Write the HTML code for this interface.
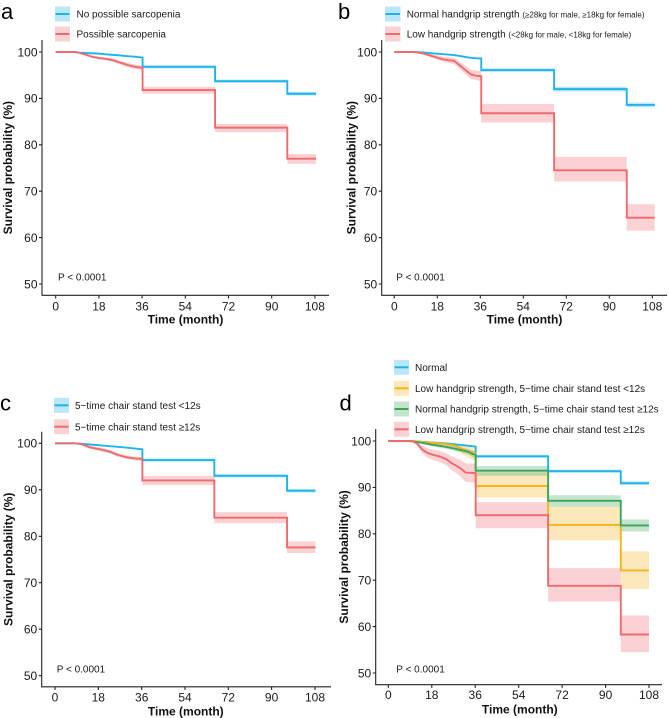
<!DOCTYPE html>
<html><head><meta charset="utf-8"><style>
html,body{margin:0;padding:0;background:#fff;}
svg{display:block;font-family:"Liberation Sans",Arial,sans-serif;}
.tk{font-size:12px;fill:#1a1a1a;}
.yt{font-size:12px;fill:#1a1a1a;text-anchor:end;}
.xt{font-size:12px;fill:#1a1a1a;text-anchor:middle;}
.ti{font-size:12px;font-weight:bold;fill:#111;text-anchor:middle;}
.lg{font-size:10px;fill:#1a1a1a;}
.pv{font-size:10px;fill:#1a1a1a;}
.let{font-size:22px;fill:#000;}
.ax{stroke:#222;stroke-width:1.1;fill:none;}
.ln{fill:none;stroke-width:1.9;vector-effect:non-scaling-stroke;stroke-linejoin:miter;}
</style></head><body>
<svg width="669" height="718" viewBox="0 0 669 718" xmlns="http://www.w3.org/2000/svg">
<rect width="669" height="718" fill="#fff"/>

<!-- ================= PANEL A ================= -->
<text class="let" x="1" y="19">a</text>
<rect x="55" y="6.5" width="15" height="15" fill="#1FB4E9" fill-opacity="0.3"/>
<line x1="55.5" y1="14" x2="69.5" y2="14" stroke="#1FB4E9" stroke-width="2"/>
<rect x="55" y="26.5" width="15" height="15" fill="#EF6A6E" fill-opacity="0.3"/>
<line x1="55.5" y1="34" x2="69.5" y2="34" stroke="#EF6A6E" stroke-width="2"/>
<text class="lg" x="76.5" y="17.6">No possible sarcopenia</text>
<text class="lg" x="76.5" y="37.6">Possible sarcopenia</text>

<g transform="translate(55.7,52) scale(2.4,4.64)">
  <g fill="#1FB4E9" fill-opacity="0.3">
    <rect x="36.2" y="2.85" width="30.2" height="0.7"/>
    <rect x="66.4" y="5.95" width="30.1" height="0.7"/>
    <rect x="96.5" y="8.6" width="12" height="0.8"/>
  </g>
  <g fill="#EF6A6E" fill-opacity="0.3">
    <polygon points="8,0 12,0.3 15,0.7 18,1.0 21,1.2 24,1.4 27,1.9 30,2.3 33,2.7 36.2,2.9 36.2,3.9 33,3.7 30,3.3 27,2.7 24,2.2 21,1.8 18,1.6 15,1.3 12,0.7 8,0"/>
    <rect x="36.2" y="7.5" width="30.2" height="1.5"/>
    <rect x="66.4" y="15.5" width="30.1" height="1.8"/>
    <rect x="96.5" y="22.0" width="12" height="2.1"/>
  </g>
  <path class="ln" stroke="#1FB4E9" d="M0,0 L8,0 L10,0.15 L14,0.25 L18,0.35 L22,0.55 L26,0.7 L30,0.9 L33,1.0 L36.2,1.2 L36.2,3.2 L66.4,3.2 L66.4,6.3 L96.5,6.3 L96.5,9.0 L108.5,9.0"/>
  <path class="ln" stroke="#EF6A6E" d="M0,0 L8,0 L10,0.2 L12,0.5 L15,1.0 L18,1.3 L21,1.5 L24,1.8 L27,2.3 L30,2.8 L33,3.2 L36.2,3.4 L36.2,8.2 L66.4,8.2 L66.4,16.3 L96.5,16.3 L96.5,23.0 L108.5,23.0"/>
</g>

<path class="ax" d="M42,40 L42,295.3 L329,295.3"/>
<path class="ax" d="M39,52H42M39,98.4H42M39,144.8H42M39,191.2H42M39,237.6H42M39,284H42"/>
<path class="ax" d="M55.7,295.3V298.5M98.9,295.3V298.5M142.1,295.3V298.5M185.3,295.3V298.5M228.5,295.3V298.5M271.7,295.3V298.5M314.9,295.3V298.5"/>
<text class="yt" x="37.5" y="56.3">100</text>
<text class="yt" x="37.5" y="102.7">90</text>
<text class="yt" x="37.5" y="149.1">80</text>
<text class="yt" x="37.5" y="195.5">70</text>
<text class="yt" x="37.5" y="241.9">60</text>
<text class="yt" x="37.5" y="288.3">50</text>
<text class="xt" x="55.7" y="310.3">0</text>
<text class="xt" x="98.9" y="310.3">18</text>
<text class="xt" x="142.1" y="310.3">36</text>
<text class="xt" x="185.3" y="310.3">54</text>
<text class="xt" x="228.5" y="310.3">72</text>
<text class="xt" x="271.7" y="310.3">90</text>
<text class="xt" x="314.9" y="310.3">108</text>
<text class="ti" x="185.5" y="323.5">Time (month)</text>
<text class="ti" transform="translate(7.5,167.7) rotate(-90)" y="4.3">Survival probability (%)</text>
<text class="pv" x="58" y="280.3">P &lt; 0.0001</text>

<!-- ================= PANEL B ================= -->
<text class="let" x="338" y="19">b</text>
<rect x="385" y="6.5" width="15.5" height="15" fill="#1FB4E9" fill-opacity="0.3"/>
<line x1="385.5" y1="14" x2="400" y2="14" stroke="#1FB4E9" stroke-width="2"/>
<rect x="385" y="26.5" width="15.5" height="15" fill="#EF6A6E" fill-opacity="0.3"/>
<line x1="385.5" y1="34" x2="400" y2="34" stroke="#EF6A6E" stroke-width="2"/>
<text class="lg" x="406.7" y="17.6">Normal handgrip strength <tspan font-size="8px">(≥28kg for male, ≥18kg for female)</tspan></text>
<text class="lg" x="406.7" y="37.6">Low handgrip strength <tspan font-size="8px">(&lt;28kg for male, &lt;18kg for female)</tspan></text>

<g transform="translate(394.3,52) scale(2.389,4.64)">
  <g fill="#1FB4E9" fill-opacity="0.3">
    <rect x="36.4" y="3.5" width="30.5" height="0.8"/>
    <rect x="66.9" y="7.5" width="30.4" height="1.0"/>
    <rect x="97.3" y="10.9" width="11.7" height="1.0"/>
  </g>
  <g fill="#EF6A6E" fill-opacity="0.3">
    <polygon points="9.7,0 14,0.3 16.6,0.6 20.8,1.0 25,1.2 28.5,2.5 32,3.8 36.4,4.1 36.4,6.3 32,5.8 28.5,4.2 25,2.6 20.8,2.2 16.6,1.4 14,0.9 9.7,0.2"/>
    <rect x="36.4" y="11.2" width="30.5" height="4.0"/>
    <rect x="66.9" y="22.6" width="30.4" height="5.3"/>
    <rect x="97.3" y="32.8" width="11.7" height="5.7"/>
  </g>
  <path class="ln" stroke="#1FB4E9" d="M0,0 L8,0 L12,0.1 L16.6,0.3 L20,0.45 L25,0.65 L28,0.9 L30.5,1.15 L33,1.3 L36.4,1.4 L36.4,3.9 L66.9,3.9 L66.9,8.0 L97.3,8.0 L97.3,11.4 L109,11.4"/>
  <path class="ln" stroke="#EF6A6E" d="M0,0 L8,0 L9.7,0.1 L12,0.3 L14,0.6 L16.6,1.0 L18.5,1.3 L20.8,1.6 L23,1.8 L25,1.9 L26.5,2.5 L28.5,3.35 L30,4.0 L32,4.8 L34,5.1 L36.4,5.2 L36.4,13.2 L66.9,13.2 L66.9,25.5 L97.3,25.5 L97.3,35.7 L109,35.7"/>
</g>

<path class="ax" d="M381.7,40 L381.7,295.3 L667,295.3"/>
<path class="ax" d="M378.7,52H381.7M378.7,98.4H381.7M378.7,144.8H381.7M378.7,191.2H381.7M378.7,237.6H381.7M378.7,284H381.7"/>
<path class="ax" d="M394.3,295.3V298.5M437.3,295.3V298.5M480.3,295.3V298.5M523.3,295.3V298.5M566.3,295.3V298.5M609.3,295.3V298.5M652.3,295.3V298.5"/>
<text class="yt" x="377.2" y="56.3">100</text>
<text class="yt" x="377.2" y="102.7">90</text>
<text class="yt" x="377.2" y="149.1">80</text>
<text class="yt" x="377.2" y="195.5">70</text>
<text class="yt" x="377.2" y="241.9">60</text>
<text class="yt" x="377.2" y="288.3">50</text>
<text class="xt" x="394.3" y="310.3">0</text>
<text class="xt" x="437.3" y="310.3">18</text>
<text class="xt" x="480.3" y="310.3">36</text>
<text class="xt" x="523.3" y="310.3">54</text>
<text class="xt" x="566.3" y="310.3">72</text>
<text class="xt" x="609.3" y="310.3">90</text>
<text class="xt" x="652.3" y="310.3">108</text>
<text class="ti" x="524.5" y="323.6">Time (month)</text>
<text class="ti" transform="translate(351,167.7) rotate(-90)" y="4.3">Survival probability (%)</text>
<text class="pv" x="396.3" y="280.3">P &lt; 0.0001</text>

<!-- ================= PANEL C ================= -->
<text class="let" x="0" y="410.7">c</text>
<rect x="54" y="397.8" width="15" height="15" fill="#1FB4E9" fill-opacity="0.3"/>
<line x1="54.5" y1="405.3" x2="68.5" y2="405.3" stroke="#1FB4E9" stroke-width="2"/>
<rect x="54" y="419.2" width="15" height="15" fill="#EF6A6E" fill-opacity="0.3"/>
<line x1="54.5" y1="426.7" x2="68.5" y2="426.7" stroke="#EF6A6E" stroke-width="2"/>
<text class="lg" x="75" y="408.9">5−time chair stand test &lt;12s</text>
<text class="lg" x="75" y="430.3">5−time chair stand test ≥12s</text>

<g transform="translate(55,443.3) scale(2.407,4.648)">
  <g fill="#1FB4E9" fill-opacity="0.3">
    <rect x="36.3" y="3.25" width="29.9" height="0.7"/>
    <rect x="66.2" y="6.65" width="30.2" height="0.7"/>
    <rect x="96.4" y="9.8" width="11.8" height="0.8"/>
  </g>
  <g fill="#EF6A6E" fill-opacity="0.3">
    <polygon points="10.4,0 14.5,0.5 18.7,0.9 22.8,1.4 25.6,2.0 29.8,2.6 33.9,2.9 36.3,2.9 36.3,3.8 33.9,3.7 29.8,3.4 25.6,2.8 22.8,2.2 18.7,1.7 14.5,1.2 10.4,0.2"/>
    <rect x="36.3" y="7.0" width="29.9" height="2.0"/>
    <rect x="66.2" y="14.8" width="30.2" height="2.4"/>
    <rect x="96.4" y="21.1" width="11.8" height="2.5"/>
  </g>
  <path class="ln" stroke="#1FB4E9" d="M0,0 L8,0 L12,0.15 L18.7,0.43 L22,0.6 L25.6,0.73 L29,0.9 L32.5,1.08 L36.3,1.3 L36.3,3.6 L66.2,3.6 L66.2,7.0 L96.4,7.0 L96.4,10.2 L108.2,10.2"/>
  <path class="ln" stroke="#EF6A6E" d="M0,0 L8,0 L10.4,0.1 L12.5,0.5 L14.5,0.86 L18.7,1.3 L22.8,1.8 L25.6,2.4 L27.5,2.7 L29.8,3.0 L33.9,3.3 L36.3,3.3 L36.3,8.0 L66.2,8.0 L66.2,16.0 L96.4,16.0 L96.4,22.4 L108.2,22.4"/>
</g>

<path class="ax" d="M41.7,431.7 L41.7,686.8 L331,686.8"/>
<path class="ax" d="M38.7,443.3H41.7M38.7,489.8H41.7M38.7,536.3H41.7M38.7,582.7H41.7M38.7,629.2H41.7M38.7,675.7H41.7"/>
<path class="ax" d="M55,686.8V690M98.3,686.8V690M141.7,686.8V690M185,686.8V690M228.3,686.8V690M271.6,686.8V690M315,686.8V690"/>
<text class="yt" x="37.2" y="447.6">100</text>
<text class="yt" x="37.2" y="494.1">90</text>
<text class="yt" x="37.2" y="540.6">80</text>
<text class="yt" x="37.2" y="587">70</text>
<text class="yt" x="37.2" y="633.5">60</text>
<text class="yt" x="37.2" y="680">50</text>
<text class="xt" x="55" y="701.6">0</text>
<text class="xt" x="98.3" y="701.6">18</text>
<text class="xt" x="141.7" y="701.6">36</text>
<text class="xt" x="185" y="701.6">54</text>
<text class="xt" x="228.3" y="701.6">72</text>
<text class="xt" x="271.6" y="701.6">90</text>
<text class="xt" x="315" y="701.6">108</text>
<text class="ti" x="185.8" y="715.6">Time (month)</text>
<text class="ti" transform="translate(8,559.3) rotate(-90)" y="4.3">Survival probability (%)</text>
<text class="pv" x="56.7" y="672.3">P &lt; 0.0001</text>

<!-- ================= PANEL D ================= -->
<text class="let" x="339.5" y="410.7">d</text>
<rect x="394" y="359.8" width="15" height="15" fill="#1FB4E9" fill-opacity="0.3"/>
<line x1="394.5" y1="367.3" x2="408.5" y2="367.3" stroke="#1FB4E9" stroke-width="2"/>
<rect x="394" y="380.8" width="15" height="15" fill="#F4B41A" fill-opacity="0.3"/>
<line x1="394.5" y1="388.3" x2="408.5" y2="388.3" stroke="#F4B41A" stroke-width="2"/>
<rect x="394" y="401.5" width="15" height="15" fill="#3BA55C" fill-opacity="0.3"/>
<line x1="394.5" y1="409" x2="408.5" y2="409" stroke="#3BA55C" stroke-width="2"/>
<rect x="394" y="421.8" width="15" height="15" fill="#EF6A6E" fill-opacity="0.3"/>
<line x1="394.5" y1="429.3" x2="408.5" y2="429.3" stroke="#EF6A6E" stroke-width="2"/>
<text class="lg" x="415" y="370.9">Normal</text>
<text class="lg" x="415" y="391.9">Low handgrip strength, 5−time chair stand test &lt;12s</text>
<text class="lg" x="415" y="412.6">Normal handgrip strength, 5−time chair stand test ≥12s</text>
<text class="lg" x="415" y="432.9">Low handgrip strength, 5−time chair stand test ≥12s</text>

<g transform="translate(388.3,441) scale(2.414,4.64)">
  <g fill="#1FB4E9" fill-opacity="0.3">
    <rect x="36.2" y="2.95" width="30" height="0.7"/>
    <rect x="66.2" y="6.15" width="30.1" height="0.7"/>
    <rect x="96.3" y="8.7" width="11.7" height="0.8"/>
  </g>
  <g fill="#F4B41A" fill-opacity="0.3">
    <polygon points="10,0 18,0.1 24,0.2 27,0.4 30,0.7 33,1.2 36.2,1.5 36.2,4.3 33,3.6 30,2.6 27,1.8 24,1.2 18,0.6 10,0"/>
    <rect x="36.2" y="6.8" width="30" height="5.4"/>
    <rect x="66.2" y="14.2" width="30.1" height="7.2"/>
    <rect x="96.3" y="23.8" width="11.7" height="8.1"/>
  </g>
  <g fill="#3BA55C" fill-opacity="0.3">
    <polygon points="10.4,0 14,0.2 18.7,0.5 24.2,0.9 29.7,1.4 33,1.7 36.2,2.3 36.2,3.8 33,2.9 29.7,2.4 24.2,1.7 18.7,1.2 14,0.6 10.4,0.2"/>
    <rect x="36.2" y="5.4" width="30" height="2.1"/>
    <rect x="66.2" y="11.7" width="30.1" height="2.5"/>
    <rect x="96.3" y="16.9" width="11.7" height="2.6"/>
  </g>
  <g fill="#EF6A6E" fill-opacity="0.3">
    <polygon points="9,0 12,0.2 14,1.0 16,1.5 18,1.8 21,2.1 24,2.6 26,3.2 28,3.7 30,4.1 32,4.8 36.2,4.9 36.2,9.0 32,8.8 30,7.7 28,6.9 26,6.2 24,5.2 21,4.5 18,4.0 16,3.5 14,2.6 12,1.0 9,0"/>
    <rect x="36.2" y="13.2" width="30" height="5.6"/>
    <rect x="66.2" y="27.4" width="30.1" height="7.2"/>
    <rect x="96.3" y="37.6" width="11.7" height="7.9"/>
  </g>
  <path class="ln" stroke="#1FB4E9" d="M0,0 L8,0 L12,0.1 L18,0.3 L24,0.55 L30,0.85 L36.2,1.2 L36.2,3.3 L66.2,3.3 L66.2,6.5 L96.3,6.5 L96.3,9.1 L108,9.1"/>
  <path class="ln" stroke="#F4B41A" d="M0,0 L10,0 L14,0.2 L18,0.35 L24,0.65 L27,0.95 L30,1.5 L33,2.2 L36.2,2.7 L36.2,9.7 L66.2,9.7 L66.2,18.1 L96.3,18.1 L96.3,27.9 L108,27.9"/>
  <path class="ln" stroke="#3BA55C" d="M0,0 L8,0 L10.4,0.1 L14,0.4 L18.7,0.85 L21,1.0 L24.2,1.3 L27,1.6 L29.7,1.9 L33,2.3 L34.5,2.7 L36.2,3.0 L36.2,6.4 L66.2,6.4 L66.2,12.9 L96.3,12.9 L96.3,18.2 L108,18.2"/>
  <path class="ln" stroke="#EF6A6E" d="M0,0 L9,0 L10.4,0.1 L12,0.6 L14,1.8 L16,2.5 L18,2.9 L21,3.3 L24,3.9 L26,4.7 L28,5.3 L30,5.9 L32,6.8 L36.2,6.9 L36.2,16.0 L66.2,16.0 L66.2,31.2 L96.3,31.2 L96.3,41.7 L108,41.7"/>
</g>

<path class="ax" d="M375.7,429 L375.7,684.7 L662,684.7"/>
<path class="ax" d="M372.7,441H375.7M372.7,487.4H375.7M372.7,533.8H375.7M372.7,580.2H375.7M372.7,626.6H375.7M372.7,673H375.7"/>
<path class="ax" d="M388.3,684.7V687.9M431.8,684.7V687.9M475.2,684.7V687.9M518.7,684.7V687.9M562.1,684.7V687.9M605.6,684.7V687.9M649,684.7V687.9"/>
<text class="yt" x="371.2" y="445.3">100</text>
<text class="yt" x="371.2" y="491.7">90</text>
<text class="yt" x="371.2" y="538.1">80</text>
<text class="yt" x="371.2" y="584.5">70</text>
<text class="yt" x="371.2" y="630.9">60</text>
<text class="yt" x="371.2" y="677.3">50</text>
<text class="xt" x="388.3" y="699">0</text>
<text class="xt" x="431.8" y="699">18</text>
<text class="xt" x="475.2" y="699">36</text>
<text class="xt" x="518.7" y="699">54</text>
<text class="xt" x="562.1" y="699">72</text>
<text class="xt" x="605.6" y="699">90</text>
<text class="xt" x="649" y="699">108</text>
<text class="ti" x="519.8" y="713.3">Time (month)</text>
<text class="ti" transform="translate(343.5,556.9) rotate(-90)" y="4.3">Survival probability (%)</text>
<text class="pv" x="396.3" y="672.6">P &lt; 0.0001</text>
</svg>
</body></html>
